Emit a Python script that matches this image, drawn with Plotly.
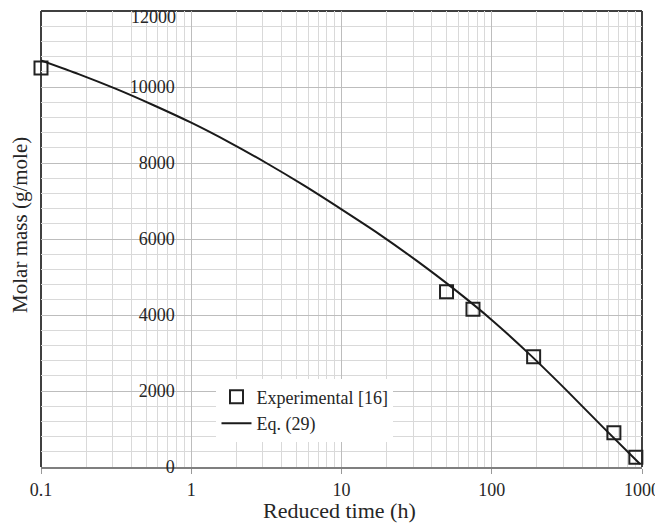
import plotly.graph_objects as go

# Experimental data [16]
exp_time = [0.1, 50, 75, 190, 650, 910]
exp_mass = [10500, 4610, 4150, 2900, 900, 255]

# Eq. (29) curve
eq_time = [0.1, 0.178, 0.316, 0.562, 1, 1.78, 3.16, 5.62, 10, 17.8, 31.6, 56.2, 100, 178, 316, 562, 970]
eq_mass = [10700, 10340, 9950, 9520, 9060, 8550, 8000, 7410, 6780, 6130, 5430, 4680, 3870, 2970, 2010, 1010, 80]

x_ticks = [0.1, 1, 10, 100, 1000]
x_tick_labels = ["0.1", "1", "10", "100", "1000"]
y_ticks = [0, 2000, 4000, 6000, 8000, 10000, 12000]
y_tick_labels = ["0", "2000", "4000", "6000", "8000", "10000", "12000"]

FONT = "Liberation Serif, Times New Roman, serif"

fig = go.Figure()
fig.add_trace(go.Scatter(
    x=exp_time, y=exp_mass, mode="markers", name="Experimental [16]",
    marker=dict(symbol="square-open", size=13, color="#222222", line=dict(width=2, color="#222222")),
    cliponaxis=False,
))
fig.add_trace(go.Scatter(
    x=eq_time, y=eq_mass, mode="lines", name="Eq. (29)",
    line=dict(color="#1a1a1a", width=2, shape="spline", smoothing=0.6),
))

# the top label sits on the frame edge; drawn as an annotation nudged down so it is not clipped
tick_text_shown = y_tick_labels[:-1] + [""]

# the page adds an 8px body margin, so the figure is sized 8px smaller
fig.update_layout(
    width=655, height=517,
    margin=dict(l=33, r=21, t=3, b=58),
    paper_bgcolor="white", plot_bgcolor="white",
    font=dict(family=FONT, size=18, color="#262626"),
    showlegend=True,
    legend=dict(
        x=0.292, y=0.194, xanchor="left", yanchor="top",
        bgcolor="white", borderwidth=0,
        font=dict(family=FONT, size=18, color="#262626"),
        tracegroupgap=0, itemwidth=30,
    ),
    xaxis=dict(
        type="log", range=[-1, 3], automargin=False,
        tickvals=x_ticks, ticktext=x_tick_labels,
        ticklabeloverflow="allow",
        showgrid=True, gridcolor="#bdbdbd", gridwidth=1.3,
        minor=dict(dtick="D1", showgrid=True, gridcolor="#d9d9d9", gridwidth=1, ticks=""),
        showline=True, linecolor="#7f7f7f", linewidth=2,
        ticks="outside", ticklen=5, tickcolor="#999999",
        zeroline=False,
        tickfont=dict(family=FONT, size=18, color="#262626"),
    ),
    yaxis=dict(
        range=[0, 12000], tickvals=y_ticks, ticktext=tick_text_shown, automargin=False,
        ticklabeloverflow="allow",
        anchor="free", position=0.25,
        showgrid=True, gridcolor="#bdbdbd", gridwidth=1.3,
        minor=dict(dtick=400, showgrid=True, gridcolor="#d9d9d9", gridwidth=1, ticks=""),
        showline=False, zeroline=False,
        ticks="outside", ticklen=13, tickcolor="rgba(0,0,0,0)",
        tickfont=dict(family=FONT, size=18, color="#262626"),
    ),
    shapes=[
        dict(type="line", xref="paper", yref="paper", x0=0, x1=1, y0=1, y1=1,
             line=dict(color="#404040", width=2), layer="between"),
        dict(type="line", xref="paper", yref="paper", x0=0, x1=0, y0=0, y1=1,
             line=dict(color="#404040", width=2), layer="between"),
        dict(type="line", xref="paper", yref="paper", x0=1, x1=1, y0=0, y1=1,
             line=dict(color="#404040", width=2), layer="between"),
    ],
    annotations=[
        dict(text=y_tick_labels[-1], xref="x", yref="y",
             x=0, y=y_ticks[-1], xanchor="right", yanchor="middle",
             xshift=-14, yshift=-6, borderpad=0, showarrow=False,
             font=dict(family=FONT, size=18, color="#262626")),
        dict(text="Molar mass (g/mole)", xref="paper", yref="paper",
             x=-0.034, y=0.53, xanchor="center", yanchor="middle",
             textangle=-90, showarrow=False,
             font=dict(family=FONT, size=21, color="#262626")),
        dict(text="Reduced time (h)", xref="paper", yref="paper",
             x=0.497, y=-0.095, xanchor="center", yanchor="middle",
             showarrow=False,
             font=dict(family=FONT, size=22, color="#262626")),
    ],
)

fig.write_html("out.html")
